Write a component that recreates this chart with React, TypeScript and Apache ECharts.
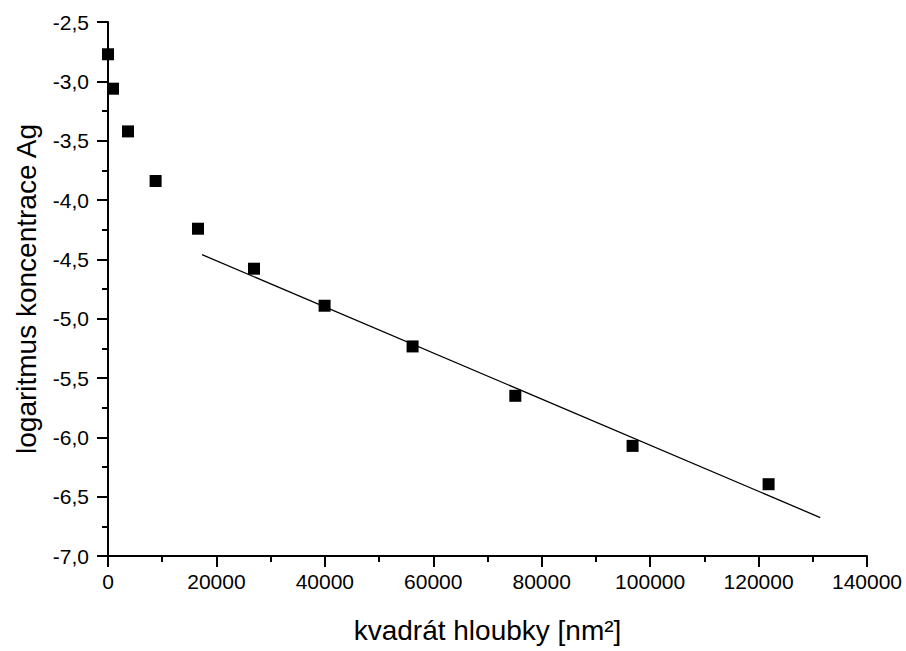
import React, { useEffect, useRef } from "react";
import * as echarts from "echarts";

const depthSquared = [0, 920, 3690, 8780, 16600, 26930, 39950, 56180, 75130, 96760, 121850];
const logConcentration = [-2.772, -3.062, -3.422, -3.84, -4.242, -4.579, -4.891, -5.234, -5.65, -6.072, -6.395];
const fitX = [17340, 131380];
const fitY = [-4.461, -6.676];

const xTitle = "kvadrát hloubky [nm²]";
const yTitle = "logaritmus koncentrace Ag";

export default function App() {
  const ref = useRef<HTMLDivElement>(null);
  useEffect(() => {
    if (!ref.current) return;
    const chart = echarts.init(ref.current, null, { renderer: "svg" });
    const font = "'Liberation Sans', Arial, sans-serif";
    chart.setOption({
      animation: false,
      backgroundColor: "#ffffff",
      grid: { left: 108, right: 39, top: 22, bottom: 95 },
      xAxis: {
        type: "value",
        min: 0,
        max: 140000,
        interval: 20000,
        name: xTitle,
        nameLocation: "middle",
        nameGap: 60,
        nameTextStyle: { fontFamily: font, fontSize: 28, color: "#000" },
        axisLine: { onZero: false, lineStyle: { color: "#000", width: 2 } },
        axisTick: { inside: false, length: 11, lineStyle: { color: "#000", width: 2 } },
        minorTick: { show: true, splitNumber: 2, length: 6, lineStyle: { color: "#000", width: 2 } },
        axisLabel: {
          fontFamily: font,
          fontSize: 21,
          color: "#000",
          margin: 15,
          formatter: (v: number) => String(v),
        },
        splitLine: { show: false },
      },
      yAxis: {
        type: "value",
        min: -7,
        max: -2.5,
        interval: 0.5,
        name: yTitle,
        nameLocation: "middle",
        nameGap: 68,
        nameTextStyle: { fontFamily: font, fontSize: 28, color: "#000" },
        axisLine: { onZero: false, lineStyle: { color: "#000", width: 2 } },
        axisTick: { inside: false, length: 11, lineStyle: { color: "#000", width: 2 } },
        minorTick: { show: true, splitNumber: 2, length: 6, lineStyle: { color: "#000", width: 2 } },
        axisLabel: {
          fontFamily: font,
          fontSize: 21,
          color: "#000",
          margin: 19,
          formatter: (v: number) => v.toFixed(1).replace(".", ","),
        },
        splitLine: { show: false },
      },
      series: [
        {
          type: "line",
          data: fitX.map((x, i) => [x, fitY[i]]),
          showSymbol: false,
          symbol: "none",
          lineStyle: { color: "#000", width: 1.3 },
          z: 2,
        },
        {
          type: "scatter",
          data: depthSquared.map((x, i) => [x, logConcentration[i]]),
          symbol: "rect",
          symbolSize: 12,
          itemStyle: { color: "#000", opacity: 1 },
          z: 3,
        },
      ],
    });
    return () => chart.dispose();
  }, []);
  return (
    <div
      ref={ref}
      style={{ position: "fixed", left: 0, top: 0, width: 906, height: 651, background: "#fff" }}
    />
  );
}
